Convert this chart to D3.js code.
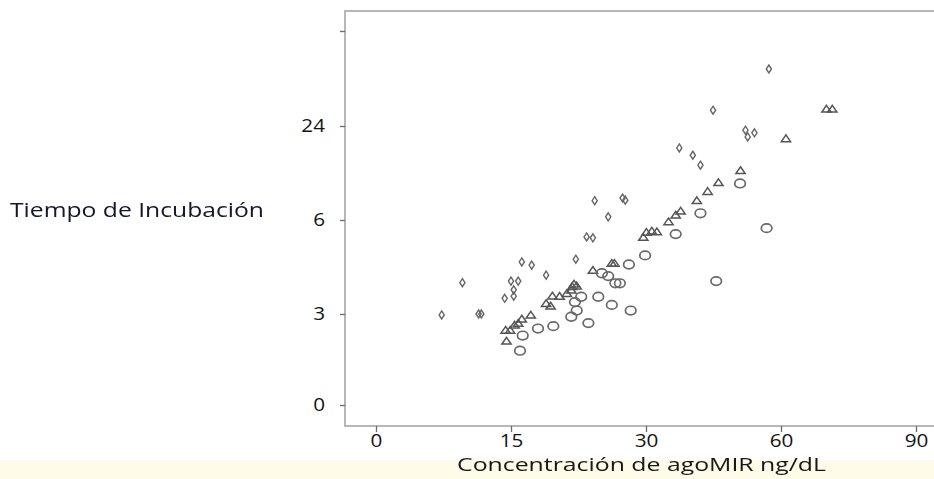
<!DOCTYPE html>
<html>
<head>
<meta charset="utf-8">
<script src="https://cdn.jsdelivr.net/npm/d3@7"></script>
<style>
  body { margin: 0; background: #fff; }
  svg { display: block; font-family: "Open Sans", sans-serif; }
</style>
</head>
<body>
<svg width="934" height="479"></svg>
<script>
// marcas de los ejes (las distancias entre marcas son iguales, no lineales)
var xTicks = [0, 15, 30, 60, 90];
var yTicks = [0, 3, 6, 24, 48];
var yTickLabels = ["0", "3", "6", "24", ""];

// [concentración, tiempo]
var diamonds = [
  [7.3, 2.97], [9.6, 4.0], [11.4, 3.0], [11.7, 3.0], [14.3, 3.5], [15.0, 4.05],
  [15.8, 4.05], [15.3, 3.77], [15.3, 3.57], [16.2, 4.66], [17.3, 4.56], [18.9, 4.24],
  [22.2, 4.75], [23.4, 5.46], [24.1, 5.43], [24.3, 9.7], [25.8, 6.6], [27.4, 10.2],
  [27.7, 9.8], [37.4, 19.8], [40.4, 18.4], [42.1, 16.5], [44.9, 28.0], [52.1, 23.2],
  [52.6, 21.9], [54.1, 22.7], [57.3, 38.4]
];
var triangles = [
  [14.5, 2.11], [14.4, 2.47], [14.9, 2.47], [15.4, 2.64], [15.8, 2.70], [16.2, 2.84],
  [17.2, 2.97], [18.9, 3.34], [19.4, 3.26], [19.6, 3.58], [20.4, 3.57], [21.2, 3.66],
  [21.7, 3.77], [22.0, 3.96], [22.3, 3.9], [21.8, 3.88], [24.1, 4.4], [26.2, 4.62],
  [26.5, 4.62], [29.7, 5.45], [30.1, 5.61], [31.3, 5.65], [32.4, 5.63], [35.0, 5.95],
  [36.6, 6.96], [37.7, 7.72], [41.3, 9.73], [43.7, 11.5], [46.1, 13.2], [51.0, 15.5],
  [61.1, 21.6], [70.1, 28.3], [71.4, 28.3]
];
var circles = [
  [16.0, 1.79], [16.3, 2.29], [18.0, 2.52], [19.7, 2.6], [21.7, 2.91], [22.3, 3.11],
  [22.1, 3.38], [22.8, 3.55], [23.6, 2.7], [24.7, 3.55], [26.2, 3.29], [28.3, 3.11],
  [25.1, 4.3], [25.8, 4.21], [26.6, 3.98], [27.1, 3.98], [28.1, 4.58], [29.9, 4.87],
  [36.6, 5.55], [42.1, 7.28], [45.6, 4.05], [50.9, 13.0], [56.8, 5.74]
];

var svg = d3.select("svg"),
  box = {left: 345, top: 11, bottom: 426, right: 945};

var x = d3.scaleLinear()
  .domain(xTicks)
  .range(xTicks.map(function(d, i) { return 376 + i * 135; }));

var y = d3.scaleLinear()
  .domain(yTicks)
  .range([405, 314, 220, 126, 31]);

svg.append("defs").append("filter")
  .attr("id", "soft")
  .append("feGaussianBlur")
  .attr("stdDeviation", 0.45);

// franja amarilla del fondo
svg.append("rect")
  .attr("x", 0).attr("y", 460)
  .attr("width", 934).attr("height", 19)
  .attr("fill", "#fffbe9");

svg.append("rect")
  .attr("x", box.left).attr("y", box.top)
  .attr("width", box.right - box.left).attr("height", box.bottom - box.top)
  .attr("fill", "none")
  .attr("stroke", "#a6a6a6")
  .attr("stroke-width", 1.6)
  .attr("filter", "url(#soft)");

var gy = svg.append("g")
  .attr("transform", "translate(" + box.left + ",0)")
  .call(d3.axisLeft(y).tickValues(yTicks).tickSize(5).tickPadding(15)
    .tickFormat(function(d, i) { return yTickLabels[i]; }));

var gx = svg.append("g")
  .attr("transform", "translate(0," + box.bottom + ")")
  .call(d3.axisBottom(x).tickValues(xTicks).tickSize(6).tickPadding(2));

[gy, gx].forEach(function(g) {
  g.select(".domain").remove();
  g.selectAll(".tick line").attr("stroke", "#6a6a6a").attr("stroke-width", 1.3);
  g.selectAll(".tick text")
    .attr("font-family", "'Open Sans', sans-serif")
    .attr("font-size", 18)
    .attr("fill", "#141414");
});

gy.selectAll(".tick text")
  .attr("transform", function() { return "translate(" + d3.select(this).attr("x") + ",0) scale(1.15,1)"; })
  .attr("x", 0);
gx.selectAll(".tick text").attr("transform", "scale(1.15,1)");

var marks = svg.append("g").attr("filter", "url(#soft)").attr("fill", "none");

marks.selectAll(".diamond")
  .data(diamonds)
  .enter().append("path")
  .attr("class", "diamond")
  .attr("d", "M0,-4L2.6,0L0,4L-2.6,0Z")
  .attr("transform", function(d) { return "translate(" + x(d[0]) + "," + y(d[1]) + ")"; })
  .attr("stroke", "#666")
  .attr("stroke-width", 1.4);

marks.selectAll(".triangle")
  .data(triangles)
  .enter().append("path")
  .attr("class", "triangle")
  .attr("d", "M0,-3.6L4.6,3.1L-4.6,3.1Z")
  .attr("transform", function(d) { return "translate(" + x(d[0]) + "," + y(d[1]) + ")"; })
  .attr("stroke", "#555")
  .attr("stroke-width", 1.5);

marks.selectAll(".circle")
  .data(circles)
  .enter().append("ellipse")
  .attr("class", "circle")
  .attr("cx", function(d) { return x(d[0]); })
  .attr("cy", function(d) { return y(d[1]); })
  .attr("rx", 5.3).attr("ry", 4.3)
  .attr("stroke", "#686868")
  .attr("stroke-width", 1.7);

svg.append("text")
  .attr("x", 10).attr("y", 217)
  .attr("font-size", 20)
  .attr("fill", "#15152b")
  .attr("textLength", 254)
  .attr("lengthAdjust", "spacingAndGlyphs")
  .text("Tiempo de Incubación");

svg.append("text")
  .attr("x", 457).attr("y", 471)
  .attr("font-size", 18)
  .attr("fill", "#181818")
  .attr("textLength", 369)
  .attr("lengthAdjust", "spacingAndGlyphs")
  .text("Concentración de agoMIR ng/dL");
</script>
</body>
</html>
